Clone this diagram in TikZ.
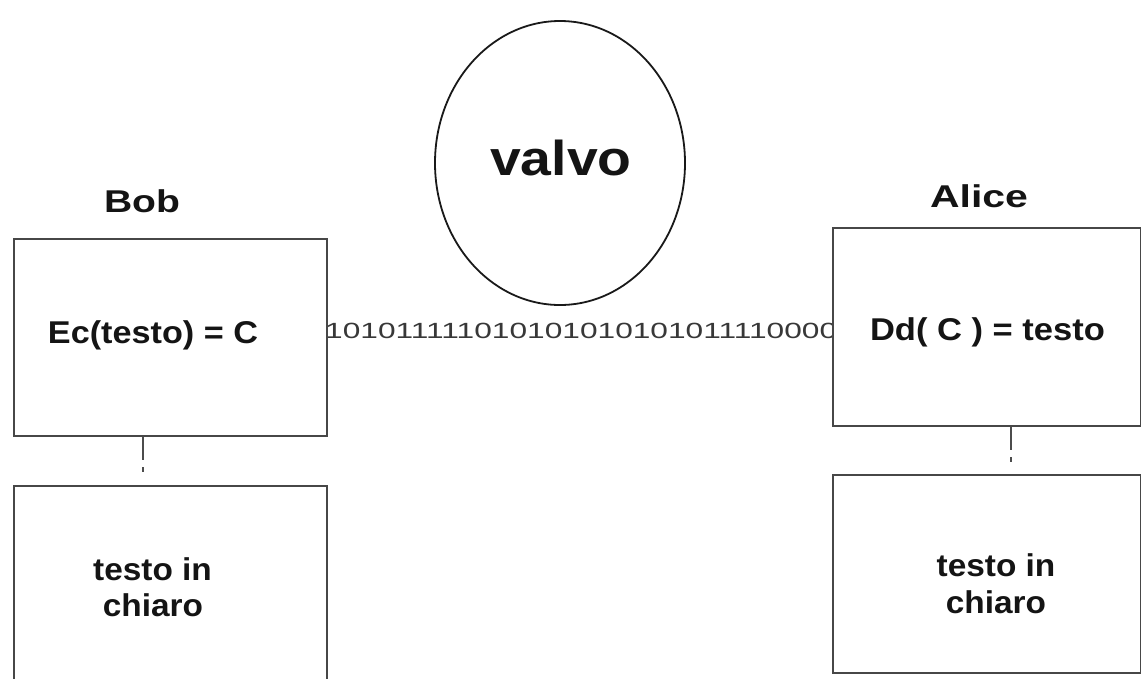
\documentclass[tikz,border=0pt]{standalone}
\usepackage{fontspec}
\setmainfont{Liberation Sans}
\usetikzlibrary{shapes.geometric}
% horizontally widened text
\newcommand{\wider}[2]{\scalebox{#1}[1]{#2}}
\tikzset{
  frame/.style={draw=black!72, line width=2.2pt, fill=white, inner sep=0pt,
    anchor=north west},
  lbl/.style={font=\bfseries\fontsize{31.5}{36}\selectfont, anchor=base,
    inner sep=0pt, text=black!92},
  bits/.style={font=\fontsize{22}{24}\selectfont, anchor=base west,
    inner sep=0pt, text=black!78},
  linkdash/.style={draw=black!70, line width=2pt,
    dash pattern=on 23pt off 7pt on 5pt off 30pt},
  eve/.style={draw=black!90, line width=1.8pt, ellipse, inner sep=0pt,
    minimum width=250pt, minimum height=284pt},
}
\begin{document}
\begin{tikzpicture}[x=1pt, y=-1pt]
  \useasboundingbox (0,0) rectangle (1141,678);
  \clip (0,0) rectangle (1141,678);

  % eavesdropper
  \node[eve] (valvo) at (560,163) {};
  \node[lbl, font=\bfseries\fontsize{49}{56}\selectfont] (valvoTxt) at (561,175)
    {\wider{1.13}{valvo}};

  % ciphertext on the channel (the receiver's box hides the overflow)
  \node[bits] (stream) at (325,338)
    {\wider{1.44}{1010111110101010101010111100000}};

  % Bob's side
  \node[frame, minimum width=313pt, minimum height=197pt] (bobEnc) at (13,238) {};
  \node[frame, minimum width=313pt, minimum height=230pt] (bobPlain) at (13,485) {};
  \draw[linkdash] ([xshift=130pt]bobEnc.south west) -- ([xshift=130pt]bobPlain.north west);

  % Alice's side
  \node[frame, minimum width=308pt, minimum height=198pt] (aliceDec) at (832,227) {};
  \node[frame, minimum width=308pt, minimum height=198pt] (alicePlain) at (832,474) {};
  \draw[linkdash] ([xshift=179pt]aliceDec.south west) -- ([xshift=179pt]alicePlain.north west);

  % labels
  \node[lbl] (bobName) at (142,212) {\wider{1.24}{Bob}};
  \node[lbl] (aliceName) at (979,207) {\wider{1.30}{Alice}};
  \node[lbl] (encTxt) at (153,343) {\wider{1.086}{Ec(testo) = C}};
  \node[lbl] (decTxt) at (987.5,340) {\wider{1.096}{Dd( C ) = testo}};
  \node[lbl] (bobPlainA) at (152.5,580) {\wider{1.06}{testo in}};
  \node[lbl] (bobPlainB) at (153,616) {\wider{1.06}{chiaro}};
  \node[lbl] (alicePlainA) at (996,576) {\wider{1.06}{testo in}};
  \node[lbl] (alicePlainB) at (996,613) {\wider{1.06}{chiaro}};
\end{tikzpicture}
\end{document}
